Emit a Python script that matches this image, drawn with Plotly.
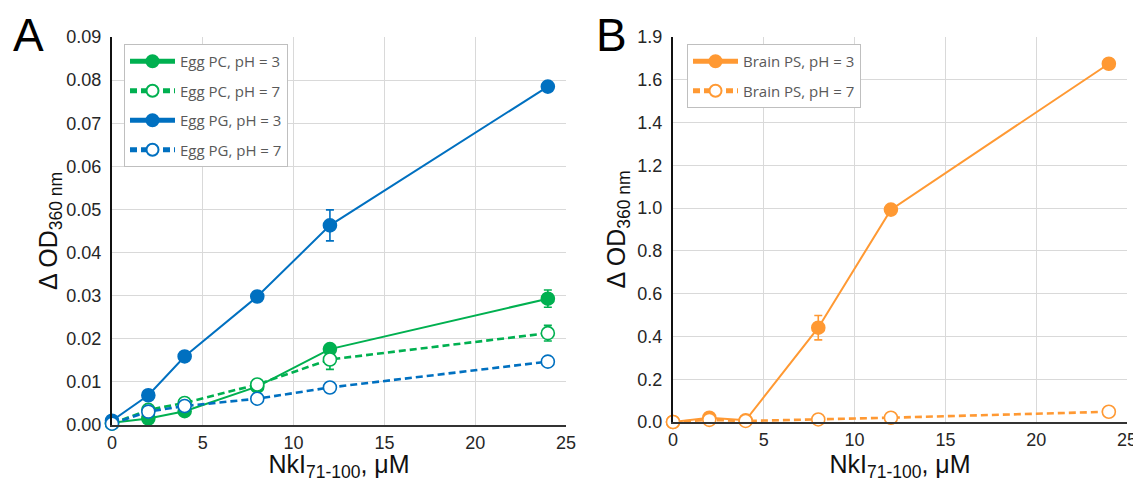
import plotly.graph_objects as go

conc = [0, 2, 4, 8, 12, 24]

# Panel A
egg_pc_ph3 = [0.0005, 0.0015, 0.0032, 0.0089, 0.0176, 0.0293]
egg_pc_ph3_err = [0.0002, 0.0004, 0.0004, 0.0005, 0.0010, 0.0020]
egg_pc_ph7 = [0.0003, 0.0035, 0.0051, 0.0094, 0.0152, 0.0213]
egg_pc_ph7_err = [0.0002, 0.0004, 0.0005, 0.0005, 0.0023, 0.0018]
egg_pg_ph3 = [0.0010, 0.0069, 0.0159, 0.0298, 0.0463, 0.0785]
egg_pg_ph3_err = [0.0002, 0.0004, 0.0004, 0.0008, 0.0036, 0.0004]
egg_pg_ph7 = [0.0003, 0.0031, 0.0044, 0.0061, 0.0087, 0.0147]
egg_pg_ph7_err = [0.0002, 0.0003, 0.0004, 0.0004, 0.0004, 0.0011]

# Panel B
brain_ps_ph3 = [0.0, 0.020, 0.008, 0.441, 0.993, 1.675]
brain_ps_ph3_err = [0.003, 0.010, 0.004, 0.057, 0.010, 0.010]
brain_ps_ph7 = [0.0, 0.010, 0.005, 0.012, 0.020, 0.048]
brain_ps_ph7_err = [0.002, 0.004, 0.003, 0.004, 0.004, 0.006]

a_ticks = [0, 0.01, 0.02, 0.03, 0.04, 0.05, 0.06, 0.07, 0.08, 0.09]
b_tickvals = [0, 0.2, 0.4, 0.6, 0.8, 1.0, 1.2, 1.4, 1.6, 1.8]
b_ticktext = ["0.0", "0.2", "0.4", "0.6", "0.8", "1.0", "1.2", "1.4", "1.6", "1.9"]
x_ticks = [0, 5, 10, 15, 20, 25]

GREEN = "#00B050"
BLUE = "#0070C0"
ORANGE = "#FF9933"

fig = go.Figure()


def add(name, y, err, color, filled, xa, ya, legend, group):
    fig.add_trace(go.Scatter(
        x=conc, y=y, name=name, mode="lines+markers",
        xaxis=xa, yaxis=ya, legend=legend, legendgroup=group,
        line=dict(color=color, width=2 if filled else 2.6,
                  dash="solid" if filled else "7px,4px"),
        marker=dict(symbol="circle", size=13,
                    color=color if filled else "white",
                    line=dict(color=color, width=1.6)),
        error_y=dict(type="data", array=err, visible=True, color=color,
                     thickness=1.6, width=4),
        cliponaxis=False,
    ))


add("Egg PC, pH = 3", egg_pc_ph3, egg_pc_ph3_err, GREEN, True, "x", "y", "legend", "a1")
add("Egg PC, pH = 7", egg_pc_ph7, egg_pc_ph7_err, GREEN, False, "x", "y", "legend", "a2")
add("Egg PG, pH = 3", egg_pg_ph3, egg_pg_ph3_err, BLUE, True, "x", "y", "legend", "a3")
add("Egg PG, pH = 7", egg_pg_ph7, egg_pg_ph7_err, BLUE, False, "x", "y", "legend", "a4")
add("Brain PS, pH = 3", brain_ps_ph3, brain_ps_ph3_err, ORANGE, True, "x2", "y2", "legend2", "b1")
add("Brain PS, pH = 7", brain_ps_ph7, brain_ps_ph7_err, ORANGE, False, "x2", "y2", "legend2", "b2")

# The page body adds an 8px margin; the figure is sized to fill the remaining window.
OFF = 8
W, H = 1141 - OFF, 482 - OFF


def px(x):
    return (x - OFF) / W


def py(y):
    return 1 - (y - OFF) / H


tickfont = dict(family="Liberation Sans, Arial, sans-serif", size=18, color="#262626")
titlefont = dict(family="Liberation Sans, Arial, sans-serif", size=25, color="#111111")
grid = "#D9D9D9"

xcommon = dict(range=[0, 25], tickvals=x_ticks, showgrid=True, gridcolor=grid, gridwidth=1,
               showline=True, linecolor="#333333", linewidth=2, zeroline=False,
               ticks="", tickfont=tickfont, mirror=False, automargin=False,
               title=dict(text="NkI<sub>71-100</sub>, μM", font=titlefont, standoff=2))
ycommon = dict(showgrid=True, gridcolor=grid, gridwidth=1, showline=True,
               linecolor="#111111", linewidth=2, zeroline=False, ticks="",
               tickfont=tickfont, automargin=False, ticklabelstandoff=5)

legfont = dict(family="Open Sans, sans-serif", size=15, color="#595959")

fig.update_layout(
    width=W, height=H,
    margin=dict(l=0, r=0, t=0, b=0),
    paper_bgcolor="white", plot_bgcolor="white",
    xaxis=dict(domain=[px(112), px(566)], anchor="y", **xcommon),
    yaxis=dict(domain=[py(425), py(37)], anchor="x", range=[0, 0.09],
               tickvals=a_ticks, tickformat=".2f",
               title=dict(text="Δ OD<sub>360 nm</sub>", font=titlefont, standoff=2),
               **ycommon),
    xaxis2=dict(domain=[px(673), px(1127)], anchor="y2", **xcommon),
    yaxis2=dict(domain=[py(422), py(37)], anchor="x2", range=[0, 1.8],
                tickvals=b_tickvals, ticktext=b_ticktext,
                title=dict(text="Δ OD<sub>360 nm</sub>", font=titlefont, standoff=5),
                **ycommon),
    legend=dict(x=px(124), y=py(44), xanchor="left", yanchor="top",
                bgcolor="white", bordercolor="#BFBFBF", borderwidth=1,
                font=legfont, tracegroupgap=7, itemsizing="constant",
                itemwidth=45),
    legend2=dict(x=px(687), y=py(44), xanchor="left", yanchor="top",
                 bgcolor="white", bordercolor="#BFBFBF", borderwidth=1,
                 font=legfont, tracegroupgap=7, itemsizing="constant",
                 itemwidth=45),
    showlegend=True,
    annotations=[
        dict(text="A", x=px(28), y=py(35), xref="paper", yref="paper",
             xanchor="center", yanchor="middle", showarrow=False,
             font=dict(family="Liberation Sans, Arial, sans-serif", size=46, color="black")),
        dict(text="B", x=px(611), y=py(35), xref="paper", yref="paper",
             xanchor="center", yanchor="middle", showarrow=False,
             font=dict(family="Liberation Sans, Arial, sans-serif", size=46, color="black")),
    ],
)

fig.write_html("out.html")
